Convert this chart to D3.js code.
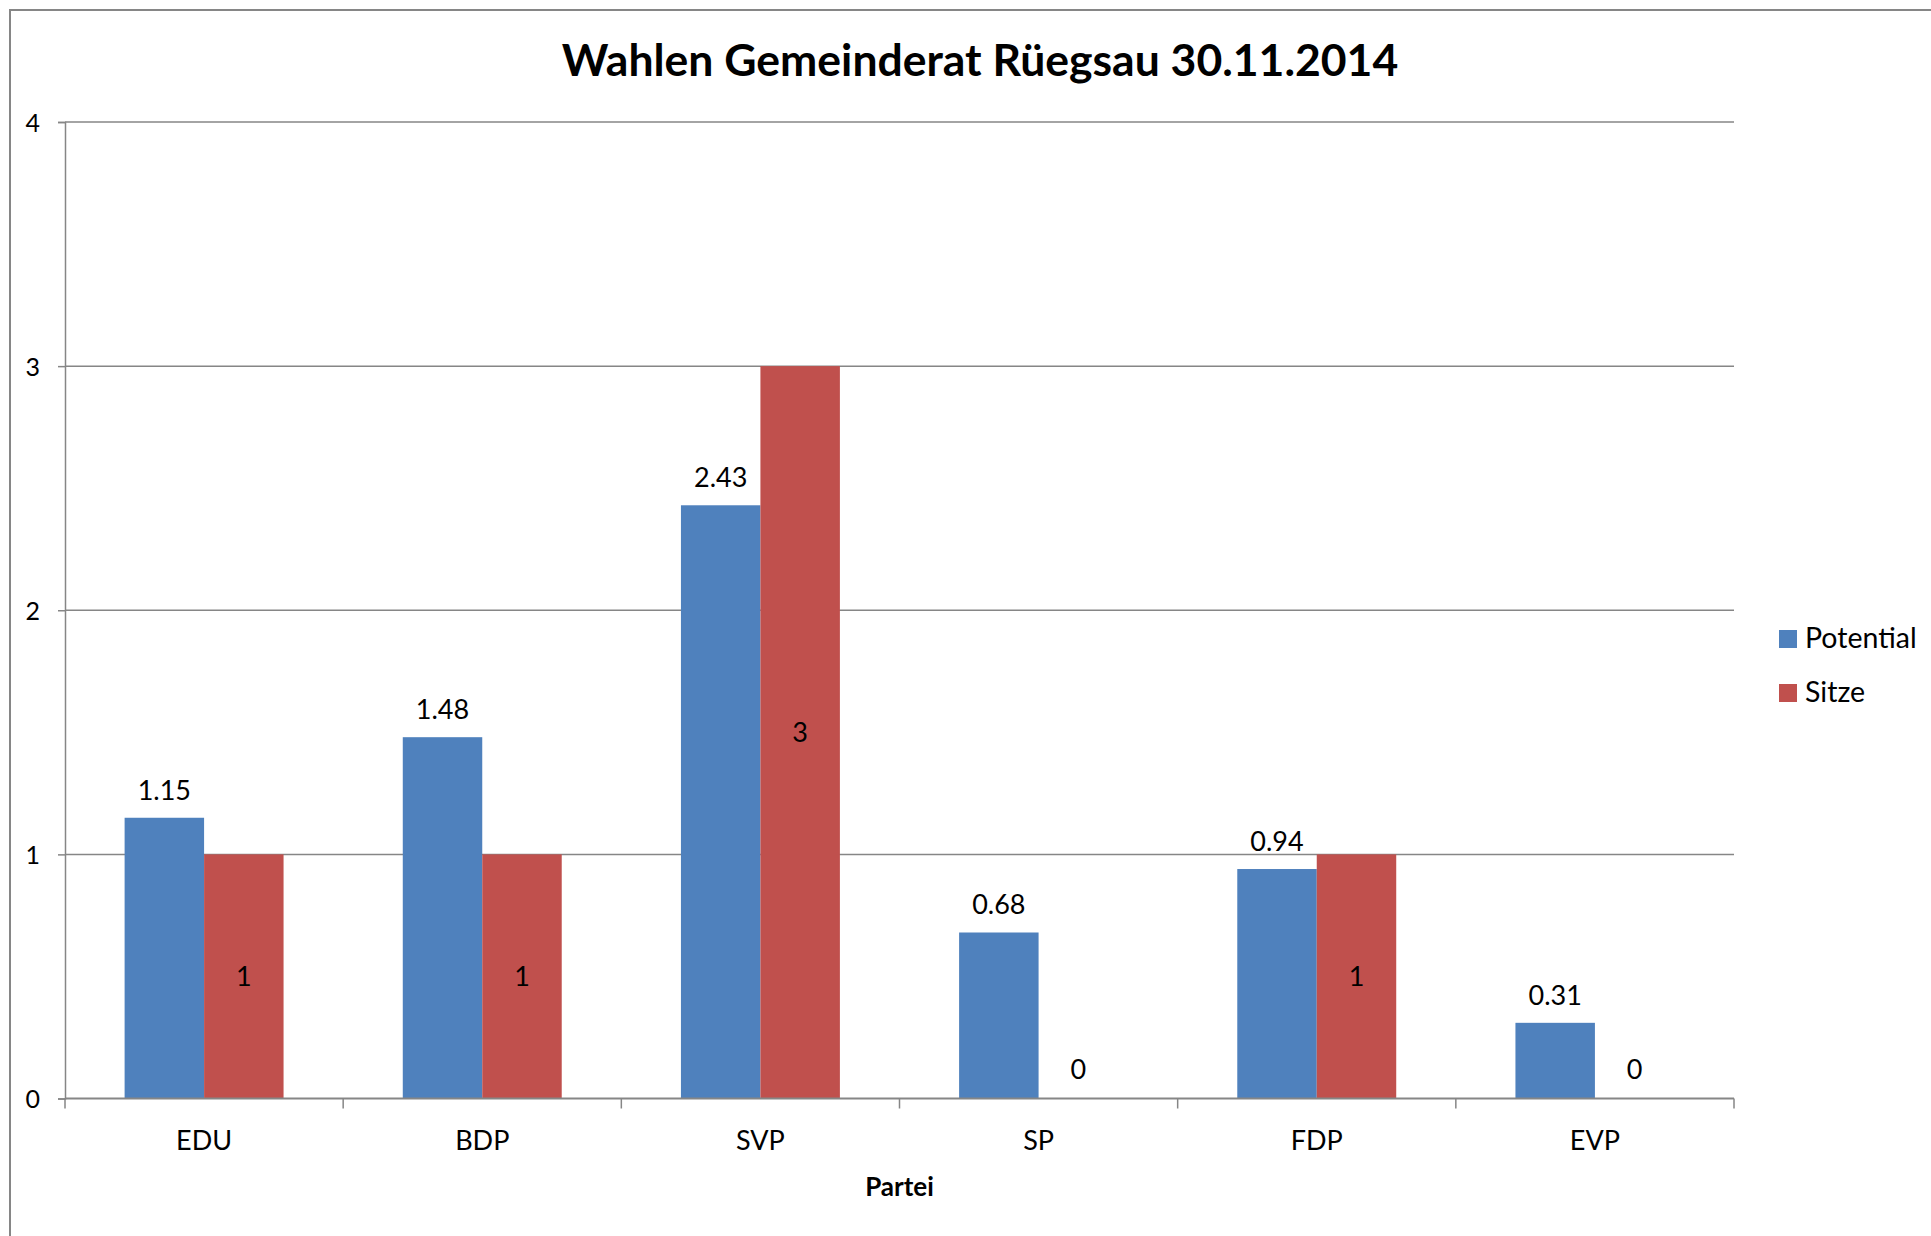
<!DOCTYPE html>
<html>
<head>
<meta charset="utf-8">
<script src="https://cdn.jsdelivr.net/npm/d3@7"></script>
<style>
  body { margin: 0; background: #fff; }
  svg { display: block; }
  text { font-family: Lato, "Open Sans", sans-serif; fill: #000; }
</style>
</head>
<body>
<script>
var parteien = [ "EDU", "BDP", "SVP", "SP", "FDP", "EVP" ];
var potential = [ 1.15, 1.48, 2.43, 0.68, 0.94, 0.31 ];
var sitze = [ 1, 1, 3, 0, 1, 0 ];
var serien = [ "Potential", "Sitze" ];
var farben = [ "#4F81BD", "#C0504D" ];
var yTicks = [ 0, 1, 2, 3, 4 ];

var W = 1931, H = 1236;
var plotLeft = 65, plotRight = 1734, plotTop = 122, plotBottom = 1098.5;

var svg = d3.select( "body" ).append( "svg" )
  .attr( "width", W )
  .attr( "height", H );

// rahmen um das diagramm
svg.append( "rect" )
  .attr( "x", 10 ).attr( "y", 10 )
  .attr( "width", W + 20 ).attr( "height", H + 20 )
  .attr( "fill", "none" )
  .attr( "stroke", "#868686" )
  .attr( "stroke-width", 2 );

var x = d3.scaleBand().domain( parteien ).range( [ plotLeft, plotRight ] );
var y = d3.scaleLinear().domain( [ 0, 4 ] ).range( [ plotBottom, plotTop ] );
var barW = x.bandwidth() / 3.5;

// gitternetz
svg.selectAll( "line.grid" )
  .data( yTicks.slice( 1 ) )
  .enter().append( "line" )
  .attr( "class", "grid" )
  .attr( "x1", plotLeft ).attr( "x2", plotRight )
  .attr( "y1", function ( d ) { return y( d ); } )
  .attr( "y2", function ( d ) { return y( d ); } )
  .attr( "stroke", "#868686" )
  .attr( "stroke-width", 1.5 );

// y achse
var yAxis = svg.append( "g" )
  .attr( "transform", "translate(" + plotLeft + ",0)" )
  .call( d3.axisLeft( y ).tickValues( yTicks ).tickSize( 7 ).tickPadding( 18 ).tickFormat( d3.format( "d" ) ) );
yAxis.attr( "font-size", null );
yAxis.select( ".domain" ).attr( "stroke", "#868686" ).attr( "stroke-width", 1.5 );
yAxis.selectAll( ".tick line" ).attr( "stroke", "#868686" ).attr( "stroke-width", 1.5 );
yAxis.selectAll( ".tick text" )
  .style( "font-size", "25px" )
  .attr( "fill", "#000" )
  .attr( "dy", "0.36em" );

// balken
var gruppen = svg.selectAll( "g.partei" )
  .data( parteien )
  .enter().append( "g" )
  .attr( "class", "partei" );

gruppen.append( "rect" )
  .attr( "x", function ( d ) { return x( d ) + x.bandwidth() / 2 - barW; } )
  .attr( "y", function ( d, i ) { return y( potential[ i ] ); } )
  .attr( "width", barW )
  .attr( "height", function ( d, i ) { return plotBottom - y( potential[ i ] ); } )
  .attr( "fill", farben[ 0 ] );

gruppen.append( "rect" )
  .attr( "x", function ( d ) { return x( d ) + x.bandwidth() / 2; } )
  .attr( "y", function ( d, i ) { return y( sitze[ i ] ); } )
  .attr( "width", barW )
  .attr( "height", function ( d, i ) { return plotBottom - y( sitze[ i ] ); } )
  .attr( "fill", farben[ 1 ] );

// x achse
svg.append( "line" )
  .attr( "x1", plotLeft ).attr( "x2", plotRight )
  .attr( "y1", plotBottom ).attr( "y2", plotBottom )
  .attr( "stroke", "#868686" ).attr( "stroke-width", 2 );

var grenzen = parteien.map( function ( d ) { return x( d ); } ).concat( [ plotRight ] );
svg.selectAll( "line.xtick" )
  .data( grenzen )
  .enter().append( "line" )
  .attr( "class", "xtick" )
  .attr( "x1", function ( d ) { return d; } )
  .attr( "x2", function ( d ) { return d; } )
  .attr( "y1", plotBottom ).attr( "y2", plotBottom + 10 )
  .attr( "stroke", "#868686" ).attr( "stroke-width", 1.5 );

svg.selectAll( "text.kat" )
  .data( parteien )
  .enter().append( "text" )
  .attr( "class", "kat" )
  .attr( "x", function ( d ) { return x( d ) + x.bandwidth() / 2; } )
  .attr( "y", 1150 )
  .attr( "text-anchor", "middle" )
  .style( "font-size", "27px" )
  .text( function ( d ) { return d; } );

// datenbeschriftungen
gruppen.append( "text" )
  .attr( "x", function ( d ) { return x( d ) + x.bandwidth() / 2 - barW / 2; } )
  .attr( "y", function ( d, i ) { return y( potential[ i ] ) - 18; } )
  .attr( "text-anchor", "middle" )
  .style( "font-size", "27px" )
  .text( function ( d, i ) { return potential[ i ]; } );

gruppen.append( "text" )
  .attr( "x", function ( d ) { return x( d ) + x.bandwidth() / 2 + barW / 2; } )
  .attr( "y", function ( d, i ) {
    if ( sitze[ i ] === 0 ) return plotBottom - 29;
    return ( y( sitze[ i ] ) + plotBottom ) / 2;
  } )
  .attr( "dy", "0.36em" )
  .attr( "text-anchor", "middle" )
  .style( "font-size", "27px" )
  .text( function ( d, i ) { return sitze[ i ]; } );

// titel
svg.append( "text" )
  .attr( "x", 980 ).attr( "y", 76 )
  .attr( "text-anchor", "middle" )
  .style( "font-size", "44.5px" )
  .style( "font-weight", "bold" )
  .text( "Wahlen Gemeinderat Rüegsau 30.11.2014" );

svg.append( "text" )
  .attr( "x", ( plotLeft + plotRight ) / 2 ).attr( "y", 1196 )
  .attr( "text-anchor", "middle" )
  .style( "font-size", "26px" )
  .style( "font-weight", "bold" )
  .text( "Partei" );

// legende
var legende = svg.selectAll( "g.leg" )
  .data( serien )
  .enter().append( "g" )
  .attr( "class", "leg" )
  .attr( "transform", function ( d, i ) { return "translate(1779," + ( 630 + i * 54 ) + ")"; } );

legende.append( "rect" )
  .attr( "width", 18 ).attr( "height", 18 )
  .attr( "fill", function ( d, i ) { return farben[ i ]; } );

legende.append( "text" )
  .attr( "x", 26 ).attr( "y", 18 )
  .style( "font-size", "28.5px" )
  .text( function ( d ) { return d; } );
</script>
</body>
</html>
